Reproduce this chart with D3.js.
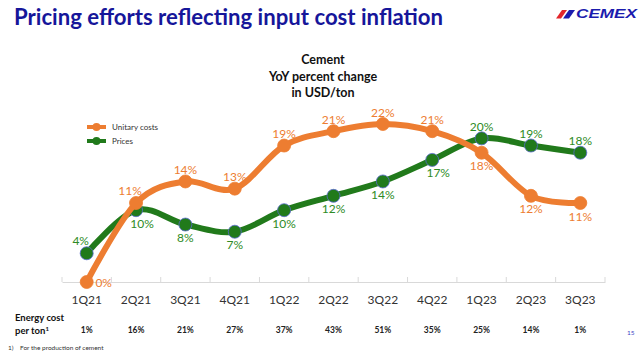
<!DOCTYPE html>
<html>
<head>
<meta charset="utf-8">
<script src="https://cdn.jsdelivr.net/npm/d3@7"></script>
<style>
  html, body { margin: 0; padding: 0; background: #fff; }
  svg { display: block; font-family: Lato, "Open Sans", sans-serif; }
</style>
</head>
<body>
<svg id="chart" width="640" height="354"></svg>
<script>
// ---- data ----
const quarters = ["1Q21","2Q21","3Q21","4Q21","1Q22","2Q22","3Q22","4Q22","1Q23","2Q23","3Q23"];
const unitaryCosts = [0, 11, 14, 13, 19, 21, 22, 21, 18, 12, 11];
const prices = [4, 10, 8, 7, 10, 12, 14, 17, 20, 19, 18];
const energyCost = ["1%","16%","21%","27%","37%","43%","51%","35%","25%","14%","1%"];
const seriesNames = ["Unitary costs", "Prices"];

// label placement (style only)
const costLabelPos = ["right","aboveL","above","above","above","above","above","above","below","below","below"];
const priceLabelPos = ["aboveL","belowR","below","below","below","below","below","belowR","above","above","above"];

const ORANGE = "#ED7D31", GREEN = "#217A1B", GREEN_TXT = "#2E8B25", DARK = "#333333";

const svg = d3.select("#chart");

// Title
svg.append("text").attr("x", 14).attr("y", 25)
  .attr("font-size", 22).attr("font-weight", 700).attr("fill", "#16169A")
  .attr("textLength", 429).attr("lengthAdjust", "spacingAndGlyphs")
  .text("Pricing efforts reflecting input cost inflation");

// Logo
const logo = svg.append("g");
logo.append("path").attr("d", "M562,10 L567,10 L561,18.5 L556,18.5 Z").attr("fill", "#E3262B");
logo.append("path").attr("d", "M569,10 L575,10 L569,18.5 L563,18.5 Z").attr("fill", "#1B1BAE");
logo.append("text").attr("x", 576).attr("y", 18).attr("font-size", 12.5)
  .attr("font-weight", 900).attr("font-style", "italic").attr("fill", "#1B1BAE")
  .attr("font-family", "Liberation Sans, Arial, sans-serif")
  .attr("textLength", 61).attr("lengthAdjust", "spacingAndGlyphs").text("CEMEX");

// Chart title
const ct = svg.append("text").attr("text-anchor", "middle").attr("font-size", 12.5)
  .attr("font-weight", 700).attr("fill", "#111");
["Cement","YoY percent change","in USD/ton"].forEach((t, i) => {
  ct.append("tspan").attr("x", 323).attr("y", 64 + i * 16.5).text(t);
});

// Scales
const x = d3.scaleBand().domain(quarters).range([62, 605]);
const cx = q => x(q) + x.bandwidth() / 2;
const y = d3.scaleLinear().domain([0, 22]).range([282, 124]);

// Axis
const axis = svg.append("g").attr("transform", "translate(0,282)")
  .call(d3.axisBottom(x).tickSize(0).tickPadding(13));
axis.select(".domain").attr("stroke", "#D9D9D9").attr("stroke-width", 1.2);
axis.selectAll(".tick text").attr("font-size", 12).attr("fill", DARK)
  .attr("font-family", "Lato, sans-serif");
// boundary ticks
svg.append("g").selectAll("line").data(d3.range(quarters.length + 1)).join("line")
  .attr("x1", i => 62 + i * x.step()).attr("x2", i => 62 + i * x.step())
  .attr("y1", 277).attr("y2", 282).attr("stroke", "#D9D9D9").attr("stroke-width", 1);

// lines
const line = d3.line().x((d, i) => cx(quarters[i])).y(d => y(d)).curve(d3.curveCardinal.tension(0));

function drawSeries(values, color, markerStroke) {
  svg.append("path").datum(values).attr("d", line)
    .attr("fill", "none").attr("stroke", color).attr("stroke-width", 6)
    .attr("stroke-linejoin", "round").attr("stroke-linecap", "round");
  svg.append("g").selectAll("circle").data(values).join("circle")
    .attr("cx", (d, i) => cx(quarters[i])).attr("cy", d => y(d)).attr("r", 6.5)
    .attr("fill", color).attr("stroke", markerStroke).attr("stroke-width", 0.8);
}
drawSeries(prices, GREEN, "#5B6BCF");
drawSeries(unitaryCosts, ORANGE, ORANGE);

function drawLabels(values, pos, color) {
  const off = {
    right: [17, 0], above: [0, -12], aboveL: [-6, -13], below: [0, 13],
    belowR: [6, 13]
  };
  svg.append("g").selectAll("text").data(values).join("text")
    .attr("x", (d, i) => cx(quarters[i]) + off[pos[i]][0])
    .attr("y", (d, i) => y(d) + off[pos[i]][1])
    .attr("text-anchor", "middle").attr("dominant-baseline", "central")
    .attr("font-size", 12).attr("fill", color)
    .text(d => d + "%");
}
drawLabels(prices, priceLabelPos, GREEN_TXT);
drawLabels(unitaryCosts, costLabelPos, ORANGE);

// Legend
const legColors = [ORANGE, GREEN];
const leg = svg.append("g").selectAll("g").data(seriesNames).join("g")
  .attr("transform", (d, i) => `translate(87,${127 + i * 14})`);
leg.append("line").attr("x1", 0).attr("x2", 19).attr("y1", 0).attr("y2", 0)
  .attr("stroke", (d, i) => legColors[i]).attr("stroke-width", 4);
leg.append("circle").attr("cx", 9.5).attr("cy", 0).attr("r", 4)
  .attr("fill", (d, i) => legColors[i]);
leg.append("text").attr("x", 25).attr("y", 0).attr("dominant-baseline", "central")
  .attr("font-size", 8).attr("fill", DARK).text(d => d);

// Energy cost row
const ec = svg.append("text").attr("font-size", 9.5).attr("font-weight", 700).attr("fill", "#111");
ec.append("tspan").attr("x", 15).attr("y", 321).text("Energy cost");
const t2 = ec.append("tspan").attr("x", 15).attr("y", 334).text("per ton");
t2.append("tspan").attr("font-size", 6).attr("dy", -3).text("1");

svg.append("g").selectAll("text").data(energyCost).join("text")
  .attr("x", (d, i) => cx(quarters[i])).attr("y", 333)
  .attr("text-anchor", "middle").attr("font-size", 8.5).attr("font-weight", 700)
  .attr("fill", "#222").text(d => d);

// Footnote & page number
svg.append("text").attr("x", 8).attr("y", 350).attr("font-size", 6.5).attr("fill", DARK).text("1)");
svg.append("text").attr("x", 20).attr("y", 350).attr("font-size", 6.5).attr("fill", DARK).text("For the production of cement");
svg.append("text").attr("x", 627).attr("y", 335).attr("font-size", 6.5).attr("fill", "#3D3DC4").text("15");
</script>
</body>
</html>
